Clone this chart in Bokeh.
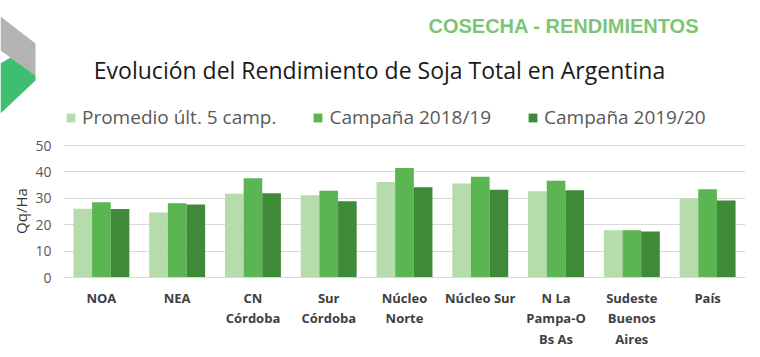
from bokeh.plotting import figure
from bokeh.models import ColumnDataSource, FactorRange, Range1d, Legend, LegendItem
from bokeh.transform import dodge
from bokeh.core.properties import value
from bokeh.embed import file_html
from bokeh.resources import INLINE

# ---- data ----
regions = ["NOA", "NEA", "CN\nCórdoba", "Sur\nCórdoba", "Núcleo\nNorte",
           "Núcleo Sur", "N La\nPampa-O\nBs As", "Sudeste\nBuenos\nAires", "País"]
promedio = [26.1, 24.6, 31.7, 31.2, 36.2, 35.6, 32.7, 17.9, 29.9]
camp_2018 = [28.5, 28.1, 37.6, 32.9, 41.5, 38.2, 36.7, 17.9, 33.4]
camp_2019 = [26.0, 27.7, 31.9, 28.9, 34.2, 33.3, 33.1, 17.4, 29.2]
series = ["Promedio últ. 5 camp.", "Campaña 2018/19", "Campaña 2019/20"]
colors = ["#b5dcaa", "#5ab552", "#3e8a39"]
y_ticks = [0, 10, 20, 30, 40, 50]
title_text = "Evolución del Rendimiento de Soja Total en Argentina"
header_text = "COSECHA - RENDIMIENTOS"
y_label = "Qq/Ha"

W = 760
HH = 130          # header height
CH = 357 - HH     # chart height
FONT = "Open Sans"

# ---- header figure: logo, titles, legend ----
hdr = figure(width=W, height=HH, x_range=Range1d(0, W), y_range=Range1d(HH, 0),
             toolbar_location=None, output_backend="svg", min_border=0,
             x_axis_location=None, y_axis_location=None)
hdr.grid.visible = False
hdr.outline_line_color = None

hdr.patches(xs=[[0, 35, 35, 10, 0], [0, 10, 35, 35, 0]],
            ys=[[16, 43, 75, 57, 50], [63, 57, 75, 80, 113]],
            fill_color=["#b3b3b3", "#3fbd73"], line_color=None)

hdr.text(x=[428], y=[25], text=[header_text], text_font=value("Liberation Sans"),
         text_font_style="bold", text_font_size="20px", text_color="#7cc576",
         text_baseline="middle")
hdr.text(x=[379], y=[69], text=[title_text], text_align="center",
         text_font=value(FONT), text_font_size="23px", text_color="#1a1a1a",
         text_baseline="middle")

# zero-size swatch renderers for the legend
swatches = [hdr.vbar(x=[0], top=[0], bottom=[0], width=0, fill_color=c, line_color=None)
            for c in colors]
leg = Legend(items=[LegendItem(label=s, renderers=[r]) for s, r in zip(series, swatches)],
             orientation="horizontal", location=(65, 0),
             glyph_width=11, glyph_height=11, label_height=20, label_standoff=6,
             spacing=36, padding=0, margin=0, border_line_color=None,
             background_fill_alpha=0, label_text_font=FONT,
             label_text_font_size="19px", label_text_color="#595959")
hdr.add_layout(leg)

# ---- chart figure ----
p = figure(width=W, height=CH, x_range=FactorRange(factors=regions),
           y_range=Range1d(0, 50.4), toolbar_location=None, output_backend="svg",
           min_border_left=63, min_border_right=15, min_border_top=14,
           min_border_bottom=CH - 14 - 133)

src = ColumnDataSource(dict(region=regions, prom=promedio, c18=camp_2018, c19=camp_2019))
bw = 0.246
for key, off, c in zip(["prom", "c18", "c19"], [-bw, 0, bw], colors):
    p.vbar(x=dodge("region", off, range=p.x_range), top=key, width=bw, source=src,
           fill_color=c, line_color=None)

p.outline_line_color = None
p.xgrid.visible = False
p.ygrid.grid_line_color = "#d9d9d9"

p.yaxis.ticker = y_ticks
p.yaxis.axis_label = y_label
p.yaxis.axis_line_color = None
p.yaxis.major_tick_line_color = None
p.yaxis.minor_tick_line_color = None
p.yaxis.major_tick_out = 0
p.yaxis.major_label_standoff = 12
p.yaxis.major_label_text_font = FONT
p.yaxis.major_label_text_font_size = "14px"
p.yaxis.major_label_text_color = "#595959"
p.yaxis.axis_label_standoff = 1
p.yaxis.axis_label_text_font = FONT
p.yaxis.axis_label_text_font_style = "normal"
p.yaxis.axis_label_text_font_size = "15px"
p.yaxis.axis_label_text_color = "#333333"

p.xaxis.axis_line_color = "#d9d9d9"
p.xaxis.major_tick_line_color = None
p.xaxis.major_tick_out = 0
p.xaxis.major_label_standoff = 11
p.xaxis.major_label_text_font = FONT
p.xaxis.major_label_text_font_style = "bold"
p.xaxis.major_label_text_font_size = "13px"
p.xaxis.major_label_text_color = "#404040"
p.xaxis.major_label_text_line_height = 1.15

open("out.html", "w").write(file_html([hdr, p], INLINE))
